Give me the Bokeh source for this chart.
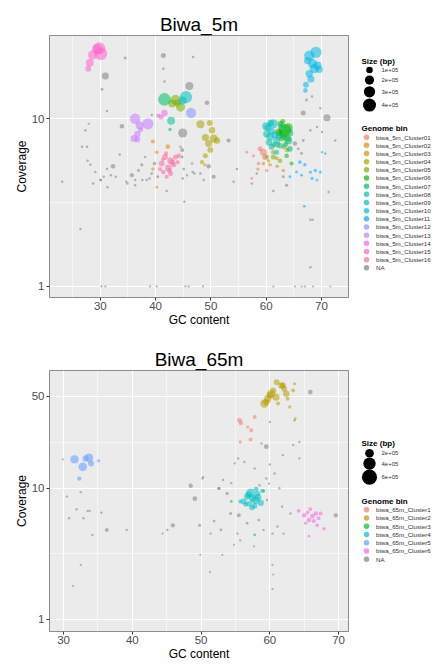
from bokeh.plotting import figure
from bokeh.layouts import column, row
from bokeh.models import ColumnDataSource, Range1d, FixedTicker, NumeralTickFormatter
from bokeh.transform import factor_cmap
from bokeh.embed import file_html
from bokeh.resources import INLINE
from bokeh.core.properties import value

FONT = "Liberation Sans"

# ---------------- shared axis values ----------------
X_TICKS = [30, 40, 50, 60, 70]
X_MINOR = [25, 35, 45, 55, 65, 75]

# ---------------- Biwa_5m ----------------
B5_TITLE = "Biwa_5m"
B5_BINS = ["biwa_5m_Cluster%02d" % i for i in range(1, 17)] + ["NA"]
B5_COLORS = ["#F8766D", "#E68613", "#CD9600", "#ABA300", "#7CAE00", "#0CB702",
             "#00BE67", "#00C19A", "#00BFC4", "#00B8E7", "#00A9FF", "#8494FF",
             "#C77CFF", "#ED68ED", "#FF61CC", "#FF68A1", "#7F7F7F"]
B5_Y_TICKS = [1, 10]
B5_Y_MINOR = [3.162, 31.62]
B5_SIZE_BREAKS = [1e5, 2e5, 3e5, 4e5]
B5_SIZE_LABELS = ["1e+05", "2e+05", "3e+05", "4e+05"]

# (GC content, coverage, size in kb) for each genome bin
B5_01 = [(59.5, 6.3, 120), (59.8, 5.9, 80), (57.7, 6.0, 25), (56.5, 6.3, 20), (58.6, 5.4, 30),
         (57.4, 4.4, 20), (60.1, 4.9, 30), (58.9, 6.6, 60)]
B5_02 = [(39.5, 7.3, 40), (42.2, 6.8, 50), (40.2, 6.3, 30), (40.2, 3.9, 20), (59.5, 5.4, 30),
         (60.7, 5.3, 30), (58.5, 5.0, 25)]
B5_03 = [(39.5, 5.0, 30), (61.9, 5.8, 40), (63.1, 4.9, 30), (60.4, 5.6, 30), (48.9, 5.3, 25)]
B5_04 = [(48.1, 9.25, 150), (49.8, 9.4, 80), (50.2, 8.5, 100), (49.0, 7.7, 120), (50.5, 7.6, 150),
         (51.1, 7.4, 100), (49.6, 7.1, 120), (49.9, 6.5, 80), (49.0, 6.0, 60), (48.4, 5.5, 40),
         (61.3, 6.3, 50), (62.0, 5.2, 30)]
B5_05 = [(43.6, 12.9, 250), (44.5, 11.7, 200), (43.0, 12.3, 150), (44.0, 12.4, 120), (62.2, 8.3, 120),
         (61.3, 5.9, 60), (62.5, 5.6, 50), (60.1, 5.9, 40), (62.8, 7.6, 80), (63.8, 6.5, 50),
         (62.0, 7.0, 80), (63.2, 6.8, 60)]
B5_06 = [(63.4, 8.5, 380), (63.1, 8.1, 150), (64.6, 5.4, 40), (63.7, 6.0, 50), (63.0, 9.6, 60),
         (62.4, 8.2, 100), (64.0, 8.8, 200), (63.9, 7.6, 100), (62.6, 9.3, 80)]
B5_07 = [(41.6, 13.0, 380), (42.6, 8.6, 30), (64.0, 7.4, 150), (62.8, 8.9, 120), (64.3, 6.6, 80),
         (63.5, 7.0, 60), (63.0, 7.8, 100), (64.3, 8.2, 120)]
B5_08 = [(42.8, 9.7, 150), (60.1, 8.1, 120), (61.0, 6.8, 80), (61.9, 6.3, 60), (60.5, 7.2, 100),
         (62.2, 7.8, 80), (60.8, 9.4, 100), (61.4, 7.0, 60)]
B5_09 = [(45.5, 13.4, 350), (44.9, 12.8, 150), (61.3, 9.3, 200), (60.7, 7.8, 150), (61.9, 7.4, 120),
         (62.5, 6.9, 80), (60.3, 8.8, 120), (61.0, 8.4, 100), (60.0, 9.0, 150), (61.6, 8.0, 120)]
B5_10 = [(69.0, 24.8, 300), (67.8, 23.7, 250), (67.5, 22.1, 120), (68.4, 21.2, 200), (68.7, 19.8, 200),
         (69.6, 19.6, 120), (67.8, 18.5, 130), (68.1, 17.2, 120), (67.2, 15.9, 80), (67.1, 14.7, 50),
         (69.3, 20.7, 150)]
B5_11 = [(66.1, 5.5, 30), (67.0, 5.3, 30), (68.0, 4.8, 25), (68.9, 4.9, 30), (69.8, 4.8, 25),
         (66.4, 4.6, 20), (68.3, 4.4, 25), (65.5, 4.8, 20), (69.2, 4.3, 20), (70.1, 6.3, 15),
         (71.3, 3.65, 15), (64.3, 4.5, 20), (66.9, 3.0, 20)]
B5_12 = [(46.4, 10.8, 250)]
B5_13 = [(36.3, 9.96, 260), (38.6, 9.3, 300), (37.1, 9.1, 150), (36.7, 8.1, 100), (36.1, 7.6, 120),
         (36.7, 7.5, 80), (37.3, 8.6, 60)]
B5_14 = [(41.6, 10.8, 100), (41.0, 10.2, 60), (40.5, 10.4, 40)]
B5_15 = [(29.8, 26.2, 350), (28.6, 23.9, 200), (30.1, 24.3, 380), (28.1, 21.5, 150), (27.8, 19.8, 80),
         (29.4, 26.0, 250)]
B5_16 = [(41.7, 5.9, 80), (42.7, 5.6, 100), (43.6, 5.9, 60), (41.1, 5.4, 80), (42.3, 5.1, 100),
         (43.3, 5.3, 60), (41.4, 4.8, 50), (42.7, 4.7, 60), (40.8, 5.0, 40), (42.0, 4.5, 40),
         (44.2, 6.0, 50), (43.0, 5.5, 70), (41.9, 6.2, 40), (42.5, 4.9, 60), (44.0, 5.5, 40),
         (41.3, 5.7, 30)]
B5_NA = [(23.1, 4.2, 15), (26.4, 2.2, 15), (27.3, 8.5, 15), (26.7, 6.8, 15), (27.6, 6.8, 15),
         (27.7, 5.6, 15), (28.2, 5.3, 15), (29.1, 4.8, 15), (30.0, 4.3, 15), (32.3, 5.2, 50),
         (30.6, 4.5, 15), (31.2, 5.0, 15), (27.9, 9.3, 12), (30.3, 14.9, 20), (31.2, 11.1, 15),
         (33.9, 9.0, 50), (33.5, 6.1, 15), (34.7, 4.2, 15), (35.7, 4.6, 40), (36.3, 4.0, 15),
         (36.9, 4.9, 20), (37.5, 5.3, 25), (38.1, 5.9, 15), (38.4, 4.3, 15), (34.5, 22.9, 20),
         (39.3, 10.5, 15), (39.3, 4.7, 20), (39.8, 5.4, 30), (40.4, 4.5, 20), (42.0, 3.7, 15),
         (45.2, 3.2, 15), (44.5, 6.8, 15), (44.8, 5.9, 20), (45.1, 5.0, 20), (45.7, 4.6, 15),
         (46.6, 5.4, 15), (47.0, 4.7, 15), (49.3, 12.4, 50), (49.6, 5.2, 50), (48.1, 4.7, 15),
         (48.7, 4.3, 15), (50.5, 4.5, 40), (53.2, 7.4, 40), (54.7, 5.0, 15), (54.1, 4.2, 15),
         (44.8, 6.5, 40), (46.1, 15.6, 150), (41.4, 23.7, 60), (44.9, 8.2, 200), (30.9, 17.9, 120),
         (41.4, 19.8, 15), (41.6, 16.6, 15), (46.8, 23.2, 15), (28.7, 4.1, 15), (30.1, 4.3, 15),
         (31.3, 3.9, 15), (31.9, 4.6, 15), (32.8, 4.5, 15), (34.9, 4.1, 15), (36.3, 4.3, 15),
         (37.6, 4.3, 15), (38.9, 4.4, 15), (44.9, 4.4, 15), (46.7, 4.8, 15),
         (66.7, 10.8, 60), (71.0, 10.1, 120), (67.3, 12.9, 20), (68.3, 13.5, 15), (69.8, 11.5, 15),
         (69.2, 8.9, 15), (68.0, 8.5, 15), (70.1, 8.3, 15), (72.5, 7.4, 15), (70.7, 6.2, 15),
         (65.2, 7.1, 50), (63.7, 4.0, 25), (61.3, 3.7, 15), (63.1, 4.5, 20), (68.0, 2.5, 15),
         (68.4, 2.5, 15), (68.0, 1.3, 15), (57.4, 4.1, 15), (58.3, 4.7, 15), (65.8, 6.6, 20),
         (66.4, 6.2, 20), (66.7, 7.4, 20),
         (30.2, 1.0, 12), (30.9, 1.0, 12), (39.0, 1.0, 12), (40.2, 1.0, 12), (45.4, 1.0, 12),
         (46.0, 1.0, 12), (48.6, 1.0, 12), (61.3, 1.0, 12), (65.2, 1.0, 12), (66.4, 1.0, 12),
         (67.0, 1.0, 12), (68.5, 1.0, 12), (71.6, 1.0, 12)]
B5_GROUPS = [B5_01, B5_02, B5_03, B5_04, B5_05, B5_06, B5_07, B5_08, B5_09, B5_10, B5_11,
             B5_12, B5_13, B5_14, B5_15, B5_16, B5_NA]

# ---------------- Biwa_65m ----------------
B65_TITLE = "Biwa_65m"
B65_BINS = ["biwa_65m_Cluster%d" % i for i in range(1, 7)] + ["NA"]
B65_COLORS = ["#F8766D", "#B79F00", "#00BA38", "#00BFC4", "#619CFF", "#F564E3", "#7F7F7F"]
B65_Y_TICKS = [1, 10, 50]
B65_Y_MINOR = [3.162, 22.36]
B65_SIZE_BREAKS = [2e5, 4e5, 6e5]
B65_SIZE_LABELS = ["2e+05", "4e+05", "6e+05"]

B65_1 = [(55.6, 32.7, 60), (55.8, 31.2, 50), (57.8, 34.7, 40), (57.3, 27.5, 40), (56.8, 29.1, 25),
         (57.2, 23.4, 40), (55.7, 22.4, 30)]
B65_2 = [(61.0, 63.8, 90), (61.7, 60.2, 110), (62.1, 56.9, 90), (60.2, 52.1, 180), (60.9, 49.2, 140),
         (59.7, 47.8, 140), (59.2, 43.9, 180), (61.2, 43.9, 40), (59.5, 45.1, 110), (62.4, 52.1, 110),
         (62.6, 47.8, 40), (63.6, 62.1, 25), (63.4, 55.2, 40), (62.9, 41.3, 30), (61.9, 60.2, 90),
         (60.5, 55.2, 90), (60.0, 50.7, 110), (63.7, 33.7, 20)]
B65_3 = [(54.4, 7.9, 20), (57.8, 4.4, 20), (59.1, 9.5, 30)]
B65_4 = [(57.2, 9.2, 200), (56.2, 7.9, 100), (57.9, 8.1, 200), (58.7, 7.7, 100), (57.4, 7.1, 80),
         (56.7, 8.6, 100), (58.2, 9.1, 80), (55.7, 7.9, 40), (58.9, 9.5, 40), (57.0, 7.6, 80),
         (57.5, 8.4, 150), (56.9, 8.9, 100), (58.3, 8.5, 120), (57.8, 7.3, 80), (56.5, 7.5, 60),
         (58.0, 9.8, 60)]
B65_5 = [(31.6, 16.5, 180), (32.8, 14.5, 200), (33.7, 17.0, 180), (33.2, 16.8, 100), (34.0, 15.4, 100),
         (35.1, 16.1, 30), (32.3, 11.8, 50), (29.9, 16.5, 15)]
B65_6 = [(64.2, 6.7, 40), (65.0, 6.2, 50), (65.9, 6.9, 40), (66.7, 6.4, 50), (65.7, 5.7, 60),
         (66.4, 5.6, 50), (67.1, 5.9, 40), (66.9, 5.2, 40), (65.2, 5.4, 30), (67.4, 6.4, 40),
         (65.7, 4.3, 20), (67.9, 4.9, 30), (66.2, 6.1, 60), (65.5, 6.5, 40)]
B65_NA = [(65.9, 53.7, 60), (60.0, 31.8, 15), (63.6, 32.7, 15), (59.5, 20.6, 60), (58.8, 21.8, 15),
          (61.9, 17.8, 15), (63.4, 21.2, 15), (64.3, 22.4, 15), (55.4, 16.8, 15), (56.3, 15.8, 15),
          (54.9, 15.4, 15), (57.8, 14.1, 15), (60.0, 15.1, 15), (60.7, 12.9, 15), (59.5, 11.8, 15),
          (53.2, 11.5, 15), (50.3, 12.1, 15), (52.6, 9.95, 25), (54.4, 10.9, 15), (53.8, 9.1, 25),
          (58.5, 10.5, 15), (61.4, 9.95, 15), (64.3, 16.8, 15),
          (30.5, 8.6, 15), (32.5, 9.3, 15), (30.8, 5.9, 15), (31.9, 6.9, 15), (33.5, 6.7, 15),
          (33.8, 6.7, 15), (35.5, 6.5, 15), (32.9, 5.9, 15), (34.2, 4.4, 15), (36.3, 4.8, 40),
          (39.2, 4.8, 15), (31.4, 1.8, 12), (32.5, 2.6, 12), (45.1, 4.8, 15), (45.9, 5.2, 50),
          (44.4, 4.5, 12), (48.5, 10.4, 50), (49.1, 8.3, 60), (50.2, 11.8, 15), (49.8, 5.2, 25),
          (49.9, 3.1, 12), (51.3, 2.3, 12), (52.6, 9.9, 25), (54.3, 6.4, 25), (52.9, 4.8, 20),
          (51.9, 5.6, 20), (55.3, 4.5, 15), (55.7, 4.0, 15), (53.1, 3.1, 12), (55.5, 6.2, 40),
          (56.7, 5.4, 20), (58.4, 5.7, 20), (59.1, 4.8, 15), (60.4, 4.5, 15), (61.1, 5.1, 15),
          (62.0, 4.5, 15), (63.0, 6.4, 15), (61.8, 7.2, 15), (60.4, 2.6, 12), (60.5, 2.2, 12),
          (60.4, 1.7, 12), (57.7, 3.6, 12), (54.8, 3.7, 12), (51.4, 4.5, 15), (59.6, 8.1, 15),
          (59.9, 10.8, 15), (69.6, 6.2, 50)]
B65_GROUPS = [B65_1, B65_2, B65_3, B65_4, B65_5, B65_6, B65_NA]

# ---------------- layout (page pixels) ----------------
FIG_W, LEG_W = 353, 88
TOP_H, BOT_H = 335, 328
PAGE_X0 = 0


def make_panel(title, groups, bins, colors, xr, yr, yticks, yminor, k, height, b_top, b_bottom):
    p = figure(width=FIG_W, height=height, x_range=Range1d(*xr), y_range=Range1d(*yr),
               y_axis_type="log", toolbar_location=None, output_backend="svg",
               min_border_left=49, min_border_right=5, min_border_top=b_top,
               min_border_bottom=b_bottom)
    p.title.text = title
    p.title.align = "center"
    p.title.text_font = FONT
    p.title.text_font_size = "19px"
    p.title.text_font_style = "normal"
    p.title.text_color = "black"
    p.title.standoff = 2

    p.background_fill_color = "#EBEBEB"
    p.border_fill_color = "white"
    p.outline_line_color = "#8C8C8C"
    p.outline_line_width = 1

    p.xaxis.ticker = FixedTicker(ticks=X_TICKS, minor_ticks=X_MINOR)
    p.yaxis.ticker = FixedTicker(ticks=yticks, minor_ticks=yminor)
    p.yaxis.formatter = NumeralTickFormatter(format="0")
    p.xaxis.axis_label = "GC content"
    p.yaxis.axis_label = "Coverage"
    for ax in (p.xaxis, p.yaxis):
        ax.axis_line_color = None
        ax.major_tick_line_color = "#333333"
        ax.major_tick_out = 3
        ax.major_tick_in = 0
        ax.minor_tick_line_color = None
        ax.major_label_text_font = FONT
        ax.major_label_text_font_size = "11.5px"
        ax.major_label_text_color = "#4D4D4D"
        ax.major_label_standoff = 0
        ax.axis_label_text_font = FONT
        ax.axis_label_text_font_size = "12px"
        ax.axis_label_text_font_style = "normal"
        ax.axis_label_text_color = "black"
        ax.axis_label_standoff = 0
    p.yaxis.major_label_standoff = 1

    for g in (p.xgrid, p.ygrid):
        g.grid_line_color = "white"
        g.grid_line_width = 1.1
        g.minor_grid_line_color = "white"
        g.minor_grid_line_width = 0.55

    gc, cov, sz, bn = [], [], [], []
    order = [len(groups) - 1] + list(range(len(groups) - 1))  # NA drawn first
    for i in order:
        for (x, y, kb) in groups[i]:
            gc.append(x)
            cov.append(y)
            sz.append(k * (kb / 100.0) ** 0.5)
            bn.append(bins[i])
    src = ColumnDataSource(dict(gc=gc, cov=cov, sz=sz, bin=bn))
    p.scatter("gc", "cov", size="sz", source=src,
              fill_color=factor_cmap("bin", colors, bins), fill_alpha=0.55, line_color=None)
    return p


def make_legend(height, page_top, k, size_breaks, size_labels, size_title_y, size_ys,
                bins, colors, bin_title_y, bin_y0, bin_step):
    x0 = PAGE_X0 + FIG_W
    lf = figure(width=LEG_W, height=height, x_range=Range1d(x0, x0 + LEG_W),
                y_range=Range1d(page_top + height, page_top), toolbar_location=None,
                output_backend="svg", min_border=0, x_axis_location=None, y_axis_location=None)
    lf.grid.visible = False
    lf.outline_line_color = None
    lf.background_fill_color = "white"
    lf.border_fill_color = "white"

    # titles
    lf.text(x=[361, 361], y=[size_title_y, bin_title_y], text=["Size (bp)", "Genome bin"],
            text_font=value(FONT), text_font_size="8px", text_font_style="bold",
            text_color="black", text_baseline="middle", text_align="left")
    # size keys
    lf.scatter(x=[369] * len(size_breaks), y=size_ys,
               size=[k * (b / 1e5) ** 0.5 for b in size_breaks],
               fill_color="black", line_color=None)
    lf.text(x=[381] * len(size_labels), y=size_ys, text=size_labels,
            text_font=value(FONT), text_font_size="6px", text_color="#333333",
            text_baseline="middle", text_align="left")
    # bin keys
    ys = [bin_y0 + i * bin_step for i in range(len(bins))]
    lf.scatter(x=[366] * len(bins), y=ys, size=5.5, fill_color=colors, fill_alpha=0.7,
               line_color=None)
    lf.text(x=[375.5] * len(bins), y=ys, text=bins,
            text_font=value(FONT), text_font_size="6.2px", text_color="#333333",
            text_baseline="middle", text_align="left")
    return lf


p1 = make_panel(B5_TITLE, B5_GROUPS, B5_BINS, B5_COLORS, (20.8, 74.9), (0.86, 31.2),
                B5_Y_TICKS, B5_Y_MINOR, 6.5, TOP_H, 35, 38)
l1 = make_legend(TOP_H, 0, 6.5, B5_SIZE_BREAKS, B5_SIZE_LABELS, 33, [44, 57, 72, 89],
                 B5_BINS, B5_COLORS, 119, 130, 10.44)

p2 = make_panel(B65_TITLE, B65_GROUPS, B65_BINS, B65_COLORS, (27.96, 71.45), (0.81, 78.3),
                B65_Y_TICKS, B65_Y_MINOR, 6.15, BOT_H, 35, 31)
l2 = make_legend(BOT_H, TOP_H, 6.15, B65_SIZE_BREAKS, B65_SIZE_LABELS, 427, [439, 452, 469],
                 B65_BINS, B65_COLORS, 499, 510, 10.35)

layout = column(row(p1, l1), row(p2, l2))
open("out.html", "w").write(file_html(layout, INLINE))
